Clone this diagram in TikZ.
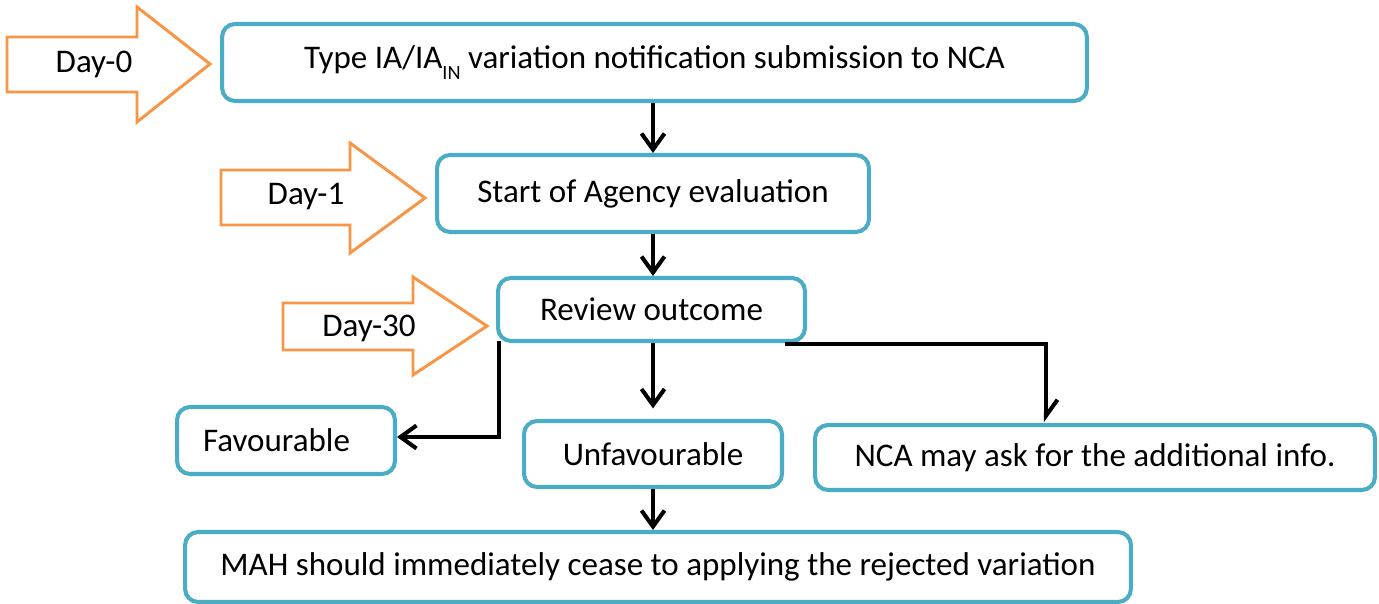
\documentclass[tikz,border=0pt]{standalone}
\usepackage{fontspec}
\setmainfont{Carlito}
\usetikzlibrary{arrows.meta}
\definecolor{boxblue}{HTML}{4BACC6}
\definecolor{dayorange}{HTML}{F79646}
\tikzset{
  stepbox/.style={draw=boxblue, line width=2.3pt, rounded corners=0.26cm,
    fill=white, inner sep=0pt, font=\fontsize{18.8}{22}\selectfont},
  dayarrow/.style={draw=dayorange, line width=1.7pt, fill=white, line join=miter},
  daylabel/.style={font=\fontsize{18.8}{22}\selectfont, inner sep=0pt},
  flow/.style={line width=2.3pt, -{Straight Barb[length=3.2mm, width=4.6mm, line width=2.3pt]}},
  halfflow/.style={line width=2.3pt, -{Straight Barb[length=3.2mm, width=4.6mm, line width=2.3pt, harpoon]}}
}
\newcommand{\subIN}{\raisebox{-0.22cm}{\fontsize{11.5}{12}\selectfont IN}}
\begin{document}
\begin{tikzpicture}[x=0.02cm, y=-0.02cm]
  \useasboundingbox (0,0) rectangle (1379,604);

  % day markers
  \draw[dayarrow] (7,37) -- (137,37) -- (137,7) -- (210,64) -- (137,122) -- (137,92) -- (7,92) -- cycle;
  \node[daylabel] (d0) at (94,64) {Day-0};
  \draw[dayarrow] (221,170) -- (350,170) -- (350,143) -- (425,198) -- (350,253) -- (350,225) -- (221,225) -- cycle;
  \node[daylabel] (d1) at (306,197) {Day-1};
  \draw[dayarrow] (283,303) -- (413,303) -- (413,277) -- (487,326) -- (413,375) -- (413,350) -- (283,350) -- cycle;
  \node[daylabel] (d30) at (369,328) {Day-30};

  % process boxes
  \node[stepbox, minimum width=17.3cm, minimum height=1.54cm] (sub) at (654.5,62.5)
    {Type IA/IA\subIN{} variation notification submission to NCA};
  \node[stepbox, minimum width=8.64cm, minimum height=1.54cm] (eval) at (653,193.5)
    {Start of Agency evaluation};
  \node[stepbox, minimum width=6.14cm, minimum height=1.26cm] (rev) at (651.5,309.5)
    {Review outcome};
  \node[stepbox, minimum width=4.36cm, minimum height=1.34cm, text width=3.32cm,
    align=left, inner xsep=0.52cm] (fav) at (286,440.5) {Favourable};
  \node[stepbox, minimum width=5.16cm, minimum height=1.32cm] (unfav) at (653,454)
    {Unfavourable};
  \node[stepbox, minimum width=11.2cm, minimum height=1.3cm] (nca) at (1095,457.5)
    {NCA may ask for the additional info.};
  \node[stepbox, minimum width=18.92cm, minimum height=1.4cm] (mah) at (658,567)
    {MAH should immediately cease to applying the rejected variation};

  % connectors
  \draw[flow] (sub.south -| 653,0) -- (eval.north -| 653,0);
  \draw[flow] (eval.south -| 653,0) -- (rev.north -| 653,0);
  \draw[flow, shorten >=6pt] (rev.south -| 653,0) -- (unfav.north -| 653,0);
  \draw[flow] (unfav.south -| 653,0) -- (mah.north -| 653,0);
  \coordinate (favstart) at (499,341);
  \draw[flow] (favstart) |- (fav.east |- 0,437);
  \coordinate (ncastart) at (785,344);
  \coordinate (ncaend) at (1046,422);
  \draw[halfflow] (ncastart) -| (ncaend);
\end{tikzpicture}
\end{document}
